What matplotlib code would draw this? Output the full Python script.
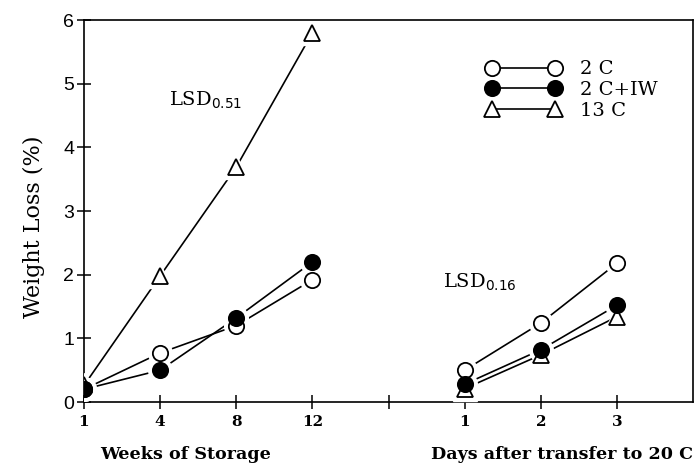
import numpy as np
import matplotlib
matplotlib.use('Agg')
import matplotlib.pyplot as plt

# Weight loss (%)
weeks = ['1', '4', '8', '12']
days = ['1', '2', '3']
c2_weeks = [0.20, 0.77, 1.20, 1.92]
c2_days = [0.50, 1.24, 2.18]
c2iw_weeks = [0.20, 0.50, 1.32, 2.20]
c2iw_days = [0.28, 0.82, 1.52]
c13_weeks = [0.26, 1.98, 3.69, 5.80]
c13_days = [0.21, 0.74, 1.34]

plt.rcParams['mathtext.fontset'] = 'dejavuserif'

# weeks on positions 0..3, an empty slot at 4, days on 5..7
xw = np.arange(len(weeks))
xd = np.arange(len(days)) + len(weeks) + 1

fig = plt.figure(figsize=(6.97, 4.66), dpi=100)
ax = fig.add_axes([0.1205, 0.1373, 0.8738, 0.8197])

series = [
    (c13_weeks, c13_days, dict(marker='^', mfc='white', ms=11), '13 C'),
    (c2_weeks, c2_days, dict(marker='o', mfc='white', ms=11), '2 C'),
    (c2iw_weeks, c2iw_days, dict(marker='o', mfc='black', ms=11), '2 C+IW'),
]

handles = {}
for yw, yd, mk, name in series:
    for x, y in ((xw, yw), (xd, yd)):
        # line, a white halo to leave a gap, then the marker itself
        ax.plot(x, y, color='black', lw=1.2, zorder=2)
        ax.plot(x, y, ls='none', marker=mk['marker'], ms=mk['ms'] + 6,
                mfc='white', mec='white', zorder=3)
        ax.plot(x, y, ls='none', marker=mk['marker'], ms=mk['ms'],
                mfc=mk['mfc'], mec='black', mew=1.3, zorder=4)
    handles[name] = ax.plot([], [], color='black', lw=1.2,
                            marker=mk['marker'], ms=mk['ms'], mfc=mk['mfc'],
                            mec='black', mew=1.3)[0]

ax.set_xlim(0, 8)
ax.set_ylim(0, 6)
ax.set_xticks(list(xw) + [len(weeks)] + list(xd))
ax.set_xticklabels(weeks + [''] + days, fontfamily='DejaVu Serif',
                   fontweight='bold', fontsize=11)
ax.set_yticks(range(0, 7))
ax.set_yticklabels([str(v) for v in range(0, 7)],
                   fontfamily='Liberation Sans', fontsize=14)
ax.tick_params(axis='both', direction='inout', length=10, width=1.1,
               colors='black')
ax.tick_params(axis='x', pad=4)
ax.tick_params(axis='y', pad=2)
for s in ax.spines.values():
    s.set_linewidth(1.2)

ax.set_ylabel('Weight Loss (%)', fontfamily='DejaVu Serif', fontsize=16)
ax.yaxis.set_label_coords(-0.064, 0.46)

ax.text(1.34, -0.148, 'Weeks of Storage', transform=ax.get_xaxis_transform(),
        ha='center', va='baseline', fontfamily='DejaVu Serif',
        fontweight='bold', fontsize=12.6)
ax.text(6.28, -0.148, 'Days after transfer to 20 C',
        transform=ax.get_xaxis_transform(), ha='center', va='baseline',
        fontfamily='DejaVu Serif', fontweight='bold', fontsize=12.6)

ax.text(1.12, 4.75, r'LSD$_{\mathsf{0.51}}$', fontfamily='DejaVu Serif',
        fontsize=14, va='center')
ax.text(4.72, 1.9, r'LSD$_{\mathsf{0.16}}$', fontfamily='DejaVu Serif',
        fontsize=14, va='center')

ax.legend([handles['2 C'], handles['2 C+IW'], handles['13 C']],
          ['2 C', '2 C+IW', '13 C'], numpoints=2, frameon=False,
          loc='upper left', bbox_to_anchor=(0.645, 0.92),
          handlelength=3.8, handletextpad=1.0, labelspacing=0.15,
          borderpad=0, prop={'family': 'DejaVu Serif', 'size': 14})

fig.savefig('out.png', dpi=100)
